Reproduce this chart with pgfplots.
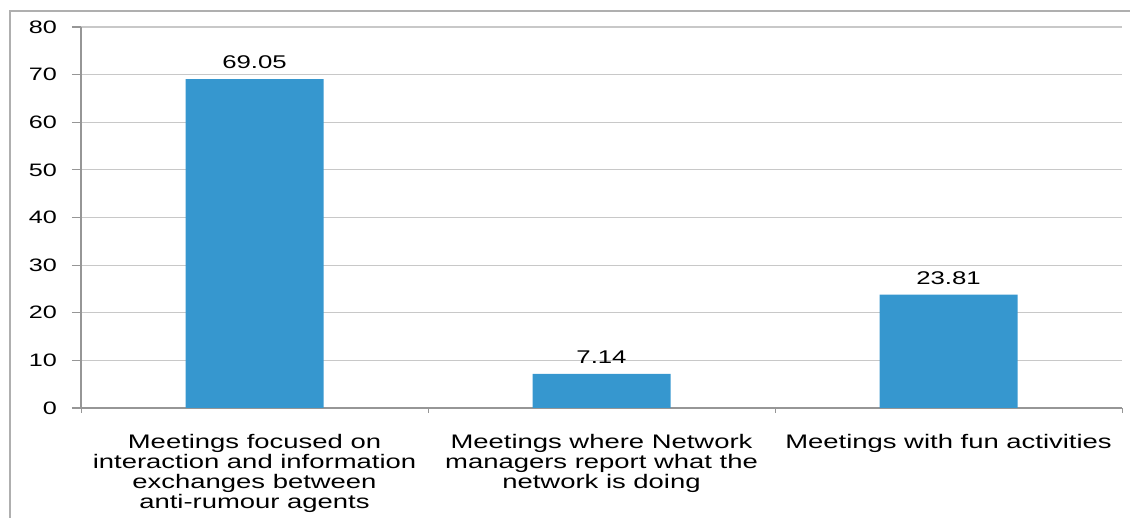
\documentclass[border=0pt]{standalone}
\usepackage{fontspec}
\setmainfont{Liberation Sans}[FakeStretch=1.4]
\usepackage{pgfplots}
\pgfplotsset{compat=1.18}
\definecolor{barblue}{RGB}{54,151,207}
\definecolor{gridgray}{RGB}{200,200,200}
\definecolor{axisgray}{RGB}{150,150,150}
\definecolor{framegray}{RGB}{175,175,175}

\begin{document}
\begin{tikzpicture}[x=1pt,y=1pt]
% page = 1130 x 518 px at 0.5pt per px
\useasboundingbox (0,0) rectangle (565,259);
\draw[framegray, line width=1pt] (5,-20) -- (5,253.5) -- (600,253.5);
\begin{axis}[
  at={(40.5pt,55pt)}, anchor=south west,
  scale only axis, width=520.5pt, height=190.5pt,
  ymin=0, ymax=80, ytick={0,10,...,80},
  xmin=-0.5, xmax=2.5,
  xtick={0,1,2},
  xticklabels={{Meetings focused on\\interaction and information\\exchanges between\\anti-rumour agents},
               {Meetings where Network\\managers report what the\\network is doing},
               {Meetings with fun activities}},
  minor xtick={-0.5,0.5,1.5,2.5},
  axis x line*=bottom, axis y line*=left,
  axis line style={axisgray, line width=0.6pt, -},
  tick align=outside,
  major tick length=4.5pt, minor tick length=2.5pt,
  x tick style={draw=none}, minor x tick style={draw=axisgray, line width=0.5pt},
  y tick style={draw=axisgray, line width=0.6pt},
  ymajorgrids, grid style={gridgray, line width=0.6pt},
  yticklabel style={font=\fontsize{9}{10}\selectfont, xshift=-4pt},
  xticklabel style={font=\fontsize{9.8}{10}\selectfont, align=center, yshift=-5pt},
  /pgf/number format/assume math mode=true,
  ybar, bar width=69pt,
  nodes near coords,
  nodes near coords style={font=\fontsize{9.2}{10}\selectfont, /pgf/number format/fixed, /pgf/number format/precision=2, /pgf/number format/fixed zerofill, yshift=1.5pt},
]
\addplot[fill=barblue, draw=none] coordinates {(0,69.05) (1,7.14) (2,23.81)};
\end{axis}
\end{tikzpicture}
\end{document}
